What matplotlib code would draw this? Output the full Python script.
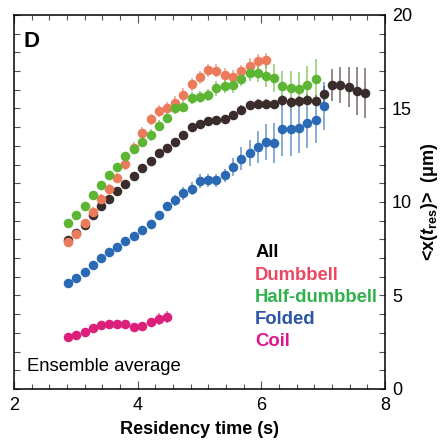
import matplotlib
matplotlib.use("Agg")
import matplotlib.pyplot as plt
from matplotlib.ticker import FixedLocator

plt.rcParams['font.family'] = ['Liberation Sans', 'DejaVu Sans']
plt.rcParams['mathtext.fontset'] = 'custom'
plt.rcParams['mathtext.rm'] = 'Liberation Sans'
plt.rcParams['mathtext.it'] = 'Liberation Sans:italic'
plt.rcParams['mathtext.bf'] = 'Liberation Sans:bold'
plt.rcParams['mathtext.bfit'] = 'Liberation Sans:italic:bold'

#
# Residency time grid (s)
#
t = [2.87, 3.00, 3.14, 3.27, 3.40, 3.54, 3.67, 3.80, 3.94, 4.07, 4.21, 4.34,
     4.47, 4.61, 4.74, 4.87, 5.01, 5.14, 5.27, 5.41, 5.54, 5.67, 5.81, 5.94,
     6.07, 6.21, 6.34, 6.48, 6.61, 6.74, 6.88, 7.01, 7.14, 7.28, 7.41, 7.54, 7.68]
#
# Ensemble average <x(t_res)> (um) and error bars per conformation
#
all_y = [7.99, 8.35, 8.79, 9.28, 9.78, 10.17, 10.58, 10.97, 11.38, 11.80, 12.21, 12.64,
         12.90, 13.23, 13.58, 14.01, 14.19, 14.33, 14.37, 14.46, 14.64, 14.92, 15.17, 15.26,
         15.26, 15.22, 15.44, 15.33, 15.38, 15.46, 15.42, 15.76, 16.26, 16.26, 16.14, 15.92, 15.85]
all_err = [0.12, 0.12, 0.12, 0.12, 0.12, 0.12, 0.12, 0.12, 0.12, 0.12, 0.12, 0.12,
           0.15, 0.2, 0.2, 0.2, 0.2, 0.2, 0.2, 0.2, 0.25, 0.25, 0.25, 0.25,
           0.25, 0.25, 0.3, 0.3, 0.3, 0.3, 0.3, 0.45, 0.87, 0.98, 1.07, 1.28, 1.34]

dumb_y = [7.85, 8.27, 8.85, 9.49, 10.17, 10.71, 11.30, 12.01, 12.90, 13.71, 14.42, 14.87,
          15.05, 15.32, 15.73, 16.30, 16.66, 17.05, 17.01, 16.80, 16.69, 16.98, 17.28, 17.52, 17.59]
dumb_err = [0.2, 0.25, 0.25, 0.25, 0.25, 0.25, 0.25, 0.3, 0.3, 0.3, 0.3, 0.3,
            0.3, 0.35, 0.35, 0.35, 0.35, 0.35, 0.35, 0.35, 0.35, 0.35, 0.4, 0.4, 0.4]

half_y = [8.88, 9.28, 9.78, 10.37, 10.92, 11.42, 11.89, 12.46, 12.85, 13.23, 13.58, 14.07,
          14.51, 15.00, 15.09, 15.56, 15.62, 15.72, 16.07, 16.21, 16.23, 16.58, 16.90, 16.89,
          16.75, 16.62, 16.18, 16.08, 16.03, 16.28, 16.57]
half_err = [0.15, 0.15, 0.15, 0.15, 0.2, 0.2, 0.2, 0.2, 0.2, 0.2, 0.3, 0.3,
            0.3, 0.3, 0.3, 0.3, 0.3, 0.3, 0.4, 0.4, 0.4, 0.4, 0.45, 0.45,
            0.58, 0.76, 0.85, 0.9, 0.9, 1.0, 1.07]

fold_y = [5.67, 5.94, 6.26, 6.61, 7.01, 7.31, 7.58, 7.90, 8.17, 8.49, 8.83, 9.28,
          9.78, 10.08, 10.46, 10.72, 11.12, 11.17, 11.17, 11.42, 11.87, 12.31, 12.64, 12.94,
          13.21, 13.14, 13.89, 13.89, 13.98, 14.21, 14.39, 15.14]
fold_err = [0.12, 0.12, 0.12, 0.12, 0.12, 0.12, 0.12, 0.12, 0.12, 0.12, 0.2, 0.2,
            0.2, 0.3, 0.35, 0.35, 0.35, 0.35, 0.35, 0.35, 0.5, 0.62, 0.7, 0.86,
            0.95, 1.07, 1.43, 1.43, 1.34, 1.3, 1.25, 1.3]

coil_y = [2.77, 2.90, 3.07, 3.25, 3.43, 3.49, 3.49, 3.49, 3.34, 3.38, 3.56, 3.74, 3.84]
coil_err = [0.08, 0.08, 0.08, 0.08, 0.08, 0.08, 0.08, 0.08, 0.08, 0.08, 0.12, 0.3, 0.33]

labels = ["All", "Dumbbell", "Half-dumbbell", "Folded", "Coil"]
marker_colors = ["#3b2c2c", "#ec7b5c", "#5cb533", "#2a6ab5", "#dc1f7a"]
text_colors = ["#000000", "#ec4762", "#2fb24c", "#2b55a5", "#e0158a"]

series = [(all_y, all_err), (dumb_y, dumb_err), (half_y, half_err),
          (fold_y, fold_err), (coil_y, coil_err)]

fig = plt.figure(figsize=(4.41, 4.41), dpi=100)
ax = fig.add_axes([0.032, 0.118, 0.841, 0.848])

for (y, e), c in zip(series, marker_colors):
    n = len(y)
    line, caps, bars = ax.errorbar(t[:n], y, yerr=e, fmt='o', color=c, ms=6.9, mew=0,
                                   ecolor=c, elinewidth=1.1, capsize=3.3, capthick=1.1)
    for cap in caps:
        cap.set_alpha(0.7)
    for b in bars:
        b.set_alpha(0.7)

ax.set_xlim(2, 8)
ax.set_ylim(0, 20)
ax.set_xticks([2, 4, 6, 8])
ax.xaxis.set_minor_locator(FixedLocator([2 + k * 2 / 7 for k in range(22)]))
ax.set_yticks([0, 5, 10, 15, 20])
ax.yaxis.set_minor_locator(FixedLocator(list(range(21))))

ax.yaxis.tick_right()
ax.yaxis.set_label_position("right")
ax.tick_params(axis='both', which='both', direction='in', top=True, bottom=True,
               left=True, right=True, labelsize=13, width=0.8, color='#555555')
ax.tick_params(axis='x', which='major', length=6, pad=6)
ax.tick_params(axis='x', which='minor', length=3.5)
ax.tick_params(axis='y', which='major', length=4, pad=5)
ax.tick_params(axis='y', which='minor', length=4)
for s in ax.spines.values():
    s.set_linewidth(1.1)

ax.set_xlabel("Residency time (s)", fontsize=13, fontweight='bold', labelpad=5)
ax.set_ylabel(r"<x($\mathbfit{t}_{\mathbf{res}}$)>  (μm)", fontsize=13,
              fontweight='bold', labelpad=5, rotation=90)

ax.text(0.024, 0.93, "D", transform=ax.transAxes, fontsize=16, fontweight='bold',
        va='center', ha='left')
ax.text(0.035, 0.06, "Ensemble average", transform=ax.transAxes, fontsize=13.3,
        va='center', ha='left')

for i, (lab, c) in enumerate(zip(labels, text_colors)):
    ax.text(0.65, 0.364 - i * 0.0595, lab, transform=ax.transAxes, fontsize=13.3,
            fontweight='bold', color=c, va='center', ha='left')

fig.savefig("out.png", dpi=100)
